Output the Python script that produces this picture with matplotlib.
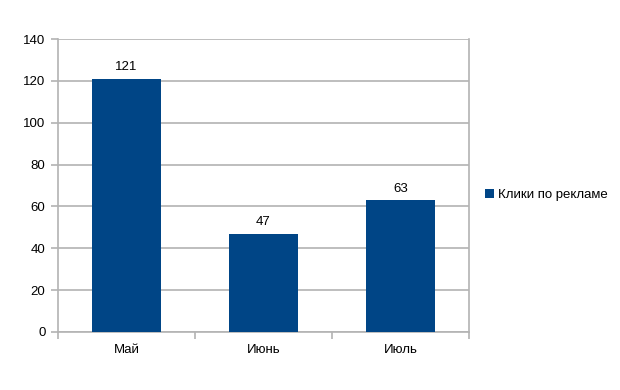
import matplotlib.pyplot as plt

plt.rcParams['font.family'] = ['Liberation Sans', 'DejaVu Sans']

months = ["Май", "Июнь", "Июль"]
clicks = [121, 47, 63]
series_name = "Клики по рекламе"

bar_color = "#004586"
grid_color = "#b3b3b3"

fig = plt.figure(figsize=(6.2, 3.9), dpi=100)
ax = fig.add_axes([0.0935, 0.149, 0.663, 0.751])

x = range(len(months))
bars = ax.bar(x, clicks, width=0.5, color=bar_color, label=series_name, zorder=3)
for b, v in zip(bars, clicks):
    ax.annotate(str(v), (b.get_x() + b.get_width() / 2, v), xytext=(0, 4),
                textcoords="offset points", ha="center", va="bottom", fontsize=9.5)

ax.set_xlim(-0.5, len(months) - 0.5)
ax.set_ylim(0, 140)
ax.set_yticks(range(0, 141, 20))
ax.yaxis.grid(True, color=grid_color, linewidth=1.2, zorder=0)
ax.set_axisbelow(True)

ax.set_xticks(x)
ax.set_xticklabels(months)
ax.set_xticks([i - 0.5 for i in range(len(months) + 1)], minor=True)
ax.tick_params(axis='x', which='major', length=0, pad=9, labelsize=9.5)
ax.tick_params(axis='x', which='minor', length=5, width=1.2, color=grid_color)
ax.tick_params(axis='y', length=5, width=1.2, color=grid_color, labelsize=9.5, pad=4)

for s in ['left', 'right', 'bottom']:
    ax.spines[s].set_color(grid_color)
    ax.spines[s].set_linewidth(1.2)
ax.spines['top'].set_visible(False)

fig.legend(loc='center left', bbox_to_anchor=(0.763, 0.5), frameon=False,
           fontsize=9.5, handlelength=0.7, handleheight=0.7, handletextpad=0.3)

fig.savefig("out.png")
